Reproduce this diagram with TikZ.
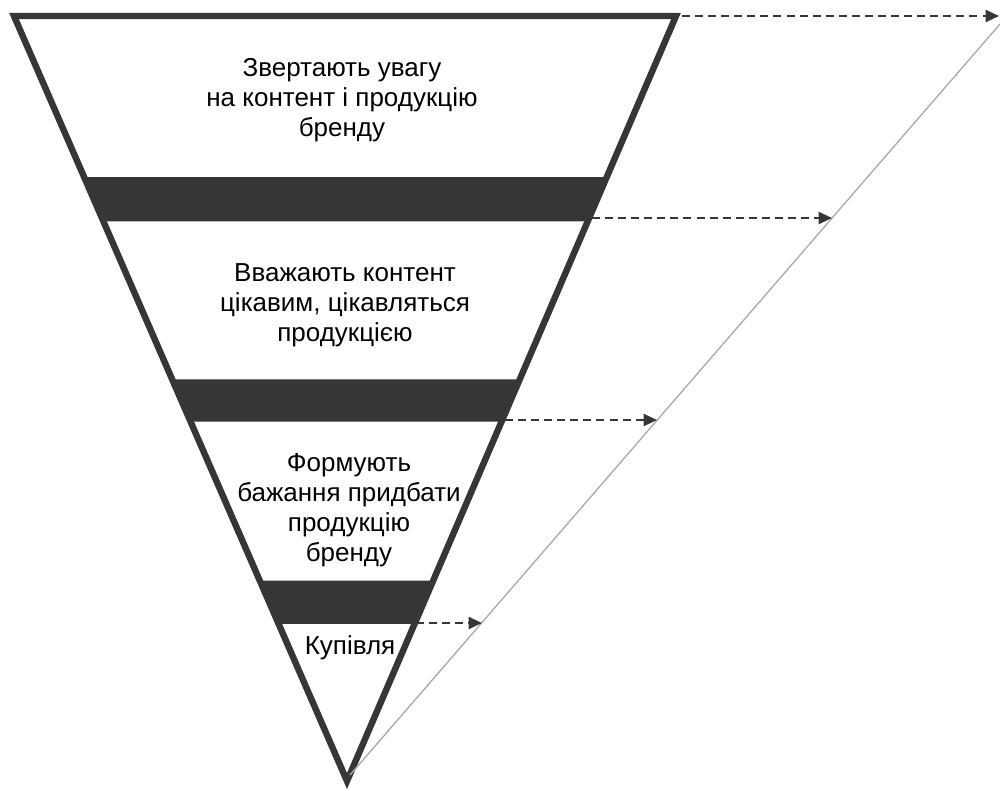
\documentclass[tikz,border=0pt]{standalone}
\usepackage{fontspec}
\setmainfont{Liberation Sans}
\usetikzlibrary{arrows.meta,calc}
\definecolor{funnel}{HTML}{383536}
\definecolor{guide}{HTML}{AAAAAA}
\tikzset{
  band/.style={fill=funnel},
  lbl/.style={align=center, font=\fontsize{19.5}{22.5}\selectfont},
  flow/.style={->, funnel, line width=1.5pt, dash pattern=on 6pt off 3.8pt}
}
\begin{document}
\begin{tikzpicture}[x=0.75pt, y=-0.75pt, >={Triangle[length=10pt,width=9pt]}]
\useasboundingbox (0,0) rectangle (1000,790);
\coordinate (tl) at (14,16);
\coordinate (tr) at (676,16);
\coordinate (apex) at (347,781);
% funnel outline
\draw[funnel, line width=4.8pt, line join=miter] (tl)--(tr)--(apex)--cycle;
% dark bands
\foreach \a/\b in {0.2107/0.2683, 0.4751/0.5301, 0.7382/0.7945}
  \fill[band] ($(tl)!\a!(apex)$)--($(tr)!\a!(apex)$)--($(tr)!\b!(apex)$)--($(tl)!\b!(apex)$)--cycle;
% guide line
\coordinate (gb) at (350,775);
\coordinate (gt) at (1000,24);
\draw[guide, line width=1pt] (gb)--(gt);
% arrows
\coordinate (r0) at (682,16);  \coordinate (g0) at (999,16);
\coordinate (r1) at (592,218); \coordinate (g1) at (832,218);
\coordinate (r2) at (505,420); \coordinate (g2) at (657,420);
\coordinate (r3) at (416,623); \coordinate (g3) at (482,623);
\foreach \i in {0,...,3}
  \draw[flow] (r\i)--(g\i);
% labels
\node[lbl] (attention) at (342,100) {Звертають увагу\\на контент і продукцію\\бренду};
\node[lbl] (interest) at (345,305) {Вважають контент\\цікавим, цікавляться\\продукцією};
\node[lbl] (desire) at (349,510) {Формують\\бажання придбати\\продукцію\\бренду};
\node[lbl] (purchase) at (350,648) {Купівля};

\end{tikzpicture}
\end{document}
